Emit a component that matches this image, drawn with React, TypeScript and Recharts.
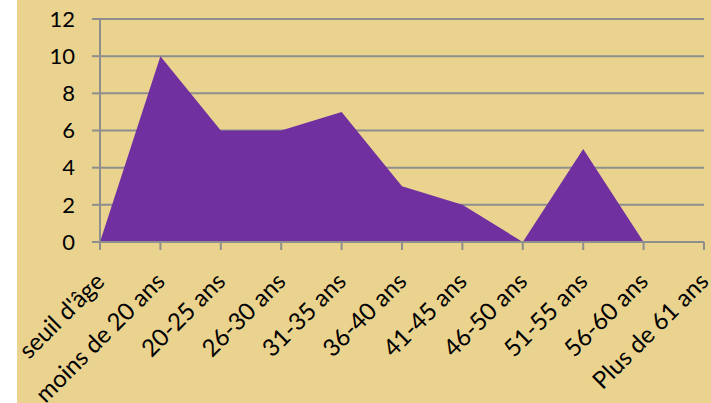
import React from "react";
import { AreaChart, Area, XAxis, YAxis, CartesianGrid } from "recharts";

const categories = [
  "seuil d'âge",
  "moins de 20 ans",
  "20-25 ans",
  "26-30 ans",
  "31-35 ans",
  "36-40 ans",
  "41-45 ans",
  "46-50 ans",
  "51-55 ans",
  "56-60 ans",
  "Plus de 61 ans",
];
const values = [0, 10, 6, 6, 7, 3, 2, 0, 5, 0, 0];
const yTicks = [0, 2, 4, 6, 8, 10, 12];

const data = categories.map((c, i) => ({ name: c, value: values[i] }));

const XTick = (props: any) => {
  const { x, y, payload } = props;
  return (
    <g transform={`translate(${x + 6},${y + 33}) rotate(-45)`}>
      <text
        x={0}
        y={0}
        textAnchor="end"
        fontFamily="Lato"
        fontSize={24}
        fill="#000"
      >
        {payload.value}
      </text>
    </g>
  );
};

export default function App() {
  return (
    <div
      style={{
        position: "absolute",
        left: 17,
        top: 0,
        width: 694,
        height: 403,
        background: "#E9D38F",
      }}
    >
      <AreaChart
        width={694}
        height={403}
        data={data}
        margin={{ top: 19, right: 7, left: 0, bottom: 0 }}
      >
        <CartesianGrid
          horizontal={true}
          vertical={false}
          stroke="#8E8E8E"
          strokeWidth={2}
        />
        <XAxis
          dataKey="name"
          height={161}
          interval={0}
          tickSize={8}
          tickMargin={0}
          axisLine={{ stroke: "#8E8E8E", strokeWidth: 2 }}
          tickLine={{ stroke: "#8E8E8E", strokeWidth: 2 }}
          tick={<XTick />}
        />
        <YAxis
          width={83}
          domain={[0, 12]}
          ticks={yTicks}
          interval={0}
          tickSize={8}
          tickMargin={17}
          axisLine={{ stroke: "#8E8E8E", strokeWidth: 2 }}
          tickLine={{ stroke: "#8E8E8E", strokeWidth: 2 }}
          tick={{ fontFamily: "Lato", fontSize: 22, fill: "#000" }}
        />
        <Area
          type="linear"
          dataKey="value"
          fill="#7030A0"
          fillOpacity={1}
          stroke="none"
          isAnimationActive={false}
          dot={false}
          activeDot={false}
        />
      </AreaChart>
    </div>
  );
}
